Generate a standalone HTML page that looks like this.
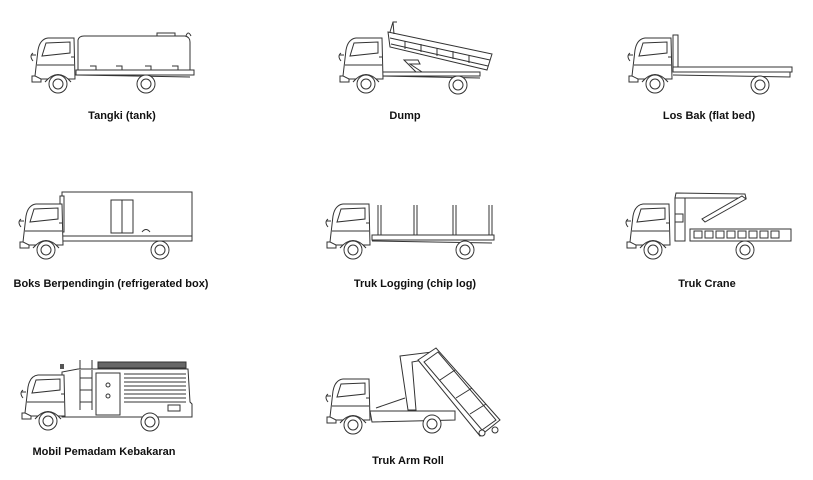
<!DOCTYPE html>
<html><head><meta charset="utf-8"><style>
html,body{margin:0;padding:0;background:#fff;width:813px;height:480px;overflow:hidden}
svg{display:block}
text{font-family:"Liberation Sans",sans-serif;font-weight:bold;font-size:11px;fill:#111}
.l{fill:none;stroke:#333;stroke-width:1}
.w{fill:#fff;stroke:#333;stroke-width:1}
</style></head><body>
<svg width="813" height="480" viewBox="0 0 813 480">
<defs>
<g id="cab">
<rect class="w" x="2" y="41" width="9" height="6"/>
<path class="w" d="M5,41 L8,15 Q10,4 18,3 L44,3 L45,44 L11,44 Z"/>
<path class="l" d="M12,21 L16,8 L40,7 L40,18 Z"/>
<path class="l" d="M7,30 L44,30 M41,22 L44,22"/>
<path class="l" d="M3,18 q-4,3 0,8 M1,20 h5"/>
<path class="w" d="M15,47 Q28,32 41,47"/>
<circle class="w" cx="28" cy="49" r="9"/><circle class="l" cx="28" cy="49" r="5"/>
</g>
<g id="wh"><circle class="w" r="9"/><circle class="l" r="5"/></g>
</defs>

<!-- 1 Tangki -->
<rect class="w" x="76" y="70" width="118" height="5"/>
<path class="w" d="M78,70 L78,40 Q79,36 84,36 L185,36 Q190,37 190,42 L190,70 Z"/>
<rect class="w" x="157" y="33" width="18" height="3"/>
<path class="l" d="M186,36 q2,-6 5,0 M90,66 h6 v4 M116,66 h6 v4 M145,66 h6 v4 M172,66 h6 v4"/>
<path class="l" d="M75,75 L190,77"/>
<use href="#cab" x="30" y="35"/>
<use href="#wh" x="146" y="84"/>
<text x="122" y="119" text-anchor="middle">Tangki (tank)</text>

<!-- 2 Dump -->
<rect class="w" x="380" y="72" width="100" height="4"/>
<path class="l" d="M380,76 L480,78"/>
<path class="w" d="M388,32 L492,54 L487,70 L390,47 Z"/>
<path class="l" d="M390,38 L490,60 M391,44 L488,66"/>
<path class="l" d="M405,41 v8 M421,44 v8 M437,48 v8 M453,51 v8 M469,55 v8"/>
<path class="l" d="M390,32 L393,22 L397,22 M393,22 L394,34"/>
<path class="w" d="M404,60 L418,60 L420,64 L410,64 L422,72 L416,72 Z"/>
<use href="#cab" x="338" y="35"/>
<use href="#wh" x="458" y="85"/>
<text x="405" y="119" text-anchor="middle">Dump</text>

<!-- 3 Los Bak -->
<rect class="w" x="673" y="35" width="5" height="34"/>
<rect class="w" x="673" y="67" width="119" height="5"/>
<path class="l" d="M673,75 L790,77 L790,72"/>
<use href="#cab" x="627" y="35"/>
<use href="#wh" x="760" y="85"/>
<text x="709" y="119" text-anchor="middle">Los Bak (flat bed)</text>

<!-- 4 Boks -->
<rect class="w" x="62" y="192" width="130" height="44"/>
<rect class="w" x="60" y="196" width="4" height="36"/>
<rect class="l" x="111" y="200" width="22" height="33"/>
<path class="l" d="M122,200 v33 M150,232 q-4,-5 -8,0"/>
<rect class="w" x="60" y="236" width="132" height="5"/>
<use href="#cab" x="18" y="201"/>
<use href="#wh" x="160" y="250"/>
<text x="111" y="287" text-anchor="middle">Boks Berpendingin (refrigerated box)</text>

<!-- 5 Logging -->
<rect class="w" x="372" y="235" width="122" height="5"/>
<path class="l" d="M378,205 v30 M381,205 v30 M414,205 v30 M417,205 v30 M453,205 v30 M456,205 v30 M489,205 v30 M492,205 v30"/>
<path class="l" d="M372,241 L492,243"/>
<use href="#cab" x="325" y="201"/>
<use href="#wh" x="465" y="250"/>
<text x="415" y="287" text-anchor="middle">Truk Logging (chip log)</text>

<!-- 6 Crane -->
<rect class="w" x="690" y="229" width="101" height="12"/>
<path class="l" d="M694,231 h8 v7 h-8z M705,231 h8 v7 h-8z M716,231 h8 v7 h-8z M727,231 h8 v7 h-8z M738,231 h8 v7 h-8z M749,231 h8 v7 h-8z M760,231 h8 v7 h-8z M771,231 h8 v7 h-8z"/>
<rect class="w" x="675" y="198" width="10" height="43"/>
<path class="w" d="M675,198 L676,193 L745,194 L746,198 Z"/>
<path class="w" d="M742,196 L746,199 L705,222 L702,219 Z"/>
<rect class="w" x="675" y="214" width="8" height="8"/>
<use href="#cab" x="625" y="201"/>
<use href="#wh" x="745" y="250"/>
<text x="707" y="287" text-anchor="middle">Truk Crane</text>

<!-- 7 Fire -->
<path class="w" d="M78,369 L188,369 L190,402 L192,404 L192,417 L62,417 L62,372 Z"/>
<rect x="98" y="362" width="88" height="6" fill="#666" stroke="#333"/>
<path class="l" d="M80,360 v9 M92,360 v9 M80,378 h12 M80,390 h12 M80,402 h12 M80,370 v40 M92,370 v40"/>
<rect class="l" x="96" y="373" width="24" height="42"/>
<circle class="l" cx="108" cy="385" r="2"/><circle class="l" cx="108" cy="396" r="2"/>
<path class="l" d="M124,374 h62 M124,378 h62 M124,382 h62 M124,386 h62 M124,390 h62 M124,394 h62 M124,398 h62 M124,402 h62"/>
<rect class="l" x="168" y="405" width="12" height="6"/>
<rect x="60" y="364" width="4" height="5" fill="#555"/>
<use href="#cab" x="20" y="372"/>
<use href="#wh" x="150" y="422"/>
<text x="104" y="455" text-anchor="middle">Mobil Pemadam Kebakaran</text>

<!-- 8 Arm Roll -->
<path class="w" d="M370,411 L455,411 L455,420 L372,422 Z"/>
<path class="w" d="M400,356 L432,352 L434,358 L412,362 L416,410 L408,410 Z"/>
<path class="l" d="M376,408 L405,398"/>
<path class="w" d="M418,360 L436,348 L500,420 L480,436 Z"/>
<path class="l" d="M424,362 L438,352 L496,420 L482,430 Z M440,380 L455,370 M456,398 L472,388 M470,414 L486,404"/>
<circle class="w" cx="482" cy="433" r="3"/><circle class="w" cx="495" cy="430" r="3"/>
<use href="#cab" x="325" y="376"/>
<use href="#wh" x="432" y="424"/>
<text x="408" y="464" text-anchor="middle">Truk Arm Roll</text>
</svg>
</body></html>
